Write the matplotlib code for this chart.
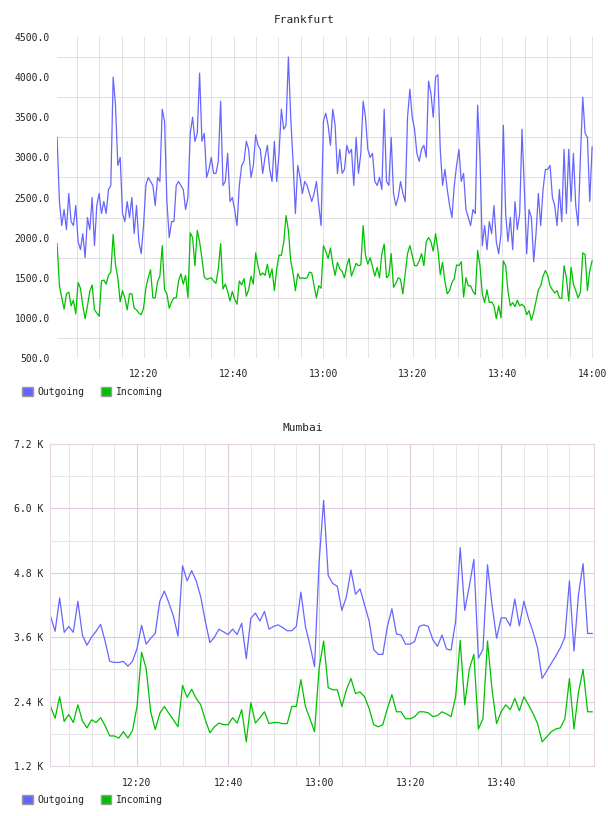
import numpy as np
import matplotlib.pyplot as plt
from matplotlib.patches import Patch

# Frankfurt, sampled about every 31 s between 12:00:36 and 14:00
fra_out = [3250, 2450, 2150, 2350, 2100, 2550, 2200, 2150, 2400, 1950,
           1850, 2050, 1750, 2250, 2100, 2500, 1900, 2400, 2550, 2300,
           2450, 2300, 2600, 2650, 4000, 3650, 2900, 3000, 2300, 2200,
           2450, 2250, 2500, 2050, 2400, 1950, 1800, 2150, 2650, 2750,
           2700, 2650, 2400, 2750, 2700, 3600, 3450, 2450, 2000, 2200,
           2200, 2650, 2700, 2650, 2600, 2350, 2500, 3300, 3500, 3200,
           3300, 4050, 3200, 3300, 2750, 2850, 3000, 2800, 2800, 2950,
           3700, 2650, 2700, 3050, 2450, 2500, 2350, 2150, 2650, 2900,
           2950, 3200, 3100, 2750, 2900, 3280, 3150, 3100, 2800, 3000,
           3150, 2850, 2700, 3200, 2700, 3050, 3600, 3350, 3400, 4250,
           3500, 2950, 2300, 2900, 2750, 2550, 2700, 2650, 2550, 2450,
           2550, 2700, 2400, 2150, 3450, 3550, 3400, 3150, 3600, 3400,
           2800, 3100, 2800, 2850, 3150, 3050, 3100, 2650, 3250, 2800,
           3050, 3700, 3500, 3100, 3000, 3050, 2700, 2650, 2750, 2600,
           3600, 2700, 2650, 3250, 2550, 2400, 2500, 2700, 2550, 2450,
           3500, 3850, 3500, 3350, 3050, 2950, 3100, 3150, 3000, 3950,
           3800, 3500, 4000, 4030, 3100, 2650, 2850, 2600, 2400, 2250,
           2650, 2900, 3100, 2700, 2800, 2350, 2250, 2150, 2350, 2300,
           3650, 3000, 1900, 2150, 1850, 2200, 2050, 2400, 1950, 1800,
           2050, 3400, 2300, 1950, 2250, 1850, 2450, 2100, 2300, 3350,
           2600, 1800, 2350, 2250, 1700, 2050, 2550, 2150, 2600, 2850,
           2850, 2900, 2500, 2400, 2150, 2600, 2200, 3100, 2300, 3100,
           2450, 3050, 2400, 2150, 3000, 3750, 3300, 3250, 2450, 3130]
fra_in = [1925, 1400, 1250, 1110, 1300, 1320, 1150, 1220, 1050, 1440,
          1370, 1150, 990, 1150, 1330, 1410, 1100, 1060, 1020, 1460,
          1470, 1420, 1530, 1570, 2040, 1660, 1500, 1200, 1340, 1250,
          1100, 1300, 1300, 1120, 1100, 1060, 1040, 1120, 1370, 1500,
          1600, 1250, 1250, 1450, 1520, 1900, 1350, 1300, 1120, 1200,
          1250, 1250, 1460, 1550, 1420, 1530, 1250, 2060, 2000, 1650,
          2090, 1950, 1740, 1510, 1480, 1490, 1500, 1460, 1430, 1610,
          1925, 1360, 1420, 1330, 1210, 1330, 1230, 1170, 1460, 1410,
          1490, 1270, 1350, 1520, 1420, 1810, 1650, 1530, 1560, 1530,
          1670, 1500, 1610, 1340, 1610, 1780, 1780, 1940, 2275, 2090,
          1710, 1560, 1340, 1550, 1490, 1500, 1490, 1500, 1570, 1560,
          1400, 1250, 1400, 1370, 1900, 1830, 1740, 1870, 1670, 1530,
          1690, 1610, 1580, 1500, 1650, 1740, 1520, 1600, 1680, 1650,
          1660, 2150, 1780, 1670, 1750, 1640, 1520, 1630, 1500, 1800,
          1920, 1500, 1530, 1800, 1380, 1430, 1500, 1480, 1300, 1550,
          1800, 1900, 1780, 1650, 1650, 1710, 1800, 1650, 1950, 2000,
          1950, 1830, 2050, 1850, 1540, 1690, 1450, 1300, 1340, 1440,
          1490, 1660, 1650, 1700, 1260, 1500, 1400, 1400, 1330, 1290,
          1840, 1650, 1300, 1190, 1350, 1190, 1200, 1150, 990, 1150,
          1000, 1710, 1650, 1330, 1150, 1190, 1140, 1220, 1150, 1170,
          1140, 1040, 1090, 970, 1070, 1210, 1350, 1400, 1520, 1590,
          1530, 1400, 1350, 1310, 1340, 1250, 1240, 1650, 1500, 1210,
          1630, 1420, 1340, 1250, 1320, 1810, 1790, 1340, 1590, 1710]
fra_t = np.linspace(0.6, 120.0, len(fra_out))  # minutes after 12:00

# Mumbai, one point a minute from 12:01 to 14:00 (values in K)
mum_out = [3.99, 3.71, 4.33, 3.69, 3.80, 3.69, 4.27, 3.64, 3.45, 3.60,
           3.71, 3.84, 3.52, 3.15, 3.13, 3.13, 3.15, 3.06, 3.15, 3.39,
           3.82, 3.47, 3.58, 3.67, 4.27, 4.46, 4.24, 3.99, 3.62, 4.93,
           4.65, 4.84, 4.65, 4.35, 3.90, 3.50, 3.60, 3.75, 3.70, 3.65,
           3.75, 3.65, 3.86, 3.20, 3.95, 4.05, 3.90, 4.08, 3.75, 3.80,
           3.83, 3.78, 3.72, 3.72, 3.80, 4.44, 3.80, 3.45, 3.05, 5.00,
           6.15, 4.75, 4.60, 4.55, 4.10, 4.35, 4.85, 4.40, 4.50, 4.20,
           3.90, 3.37, 3.28, 3.28, 3.80, 4.13, 3.66, 3.64, 3.47, 3.47,
           3.52, 3.80, 3.83, 3.80, 3.55, 3.43, 3.64, 3.38, 3.36, 3.90,
           5.27, 4.10, 4.55, 5.05, 3.21, 3.37, 4.95, 4.20, 3.58, 3.96,
           3.96, 3.81, 4.31, 3.81, 4.27, 3.95, 3.70, 3.40, 2.83, 2.97,
           3.11, 3.25, 3.40, 3.60, 4.65, 3.34, 4.40, 4.97, 3.67, 3.67]
mum_in = [2.31, 2.09, 2.49, 2.03, 2.16, 2.01, 2.34, 2.04, 1.91, 2.06,
          2.01, 2.10, 1.95, 1.76, 1.76, 1.72, 1.84, 1.72, 1.86, 2.31,
          3.32, 3.02, 2.21, 1.88, 2.18, 2.31, 2.18, 2.06, 1.93, 2.70,
          2.48, 2.63, 2.46, 2.34, 2.06, 1.82, 1.93, 2.00, 1.97, 1.97,
          2.10, 2.00, 2.25, 1.65, 2.38, 2.00, 2.10, 2.21, 1.99, 2.01,
          2.01, 1.99, 1.99, 2.31, 2.31, 2.81, 2.31, 2.08, 1.84, 3.02,
          3.53, 2.66, 2.62, 2.62, 2.31, 2.62, 2.83, 2.55, 2.58, 2.49,
          2.27, 1.97, 1.93, 1.97, 2.27, 2.53, 2.21, 2.21, 2.08, 2.08,
          2.12, 2.21, 2.21, 2.19, 2.12, 2.14, 2.21, 2.17, 2.12, 2.49,
          3.54, 2.34, 3.00, 3.28, 1.89, 2.08, 3.53, 2.62, 1.99, 2.21,
          2.34, 2.25, 2.46, 2.23, 2.49, 2.34, 2.18, 1.99, 1.65, 1.74,
          1.84, 1.89, 1.91, 2.08, 2.83, 1.89, 2.58, 3.00, 2.21, 2.21]
mum_t = np.arange(1, len(mum_out) + 1)

BLUE = '#6666ff'
GREEN = '#00c000'
TXT = '#222222'
MONO = 'DejaVu Sans Mono'

W, H = 608, 816
fig = plt.figure(figsize=(W / 100, H / 100), dpi=100)


def px_box(l, t, r, b):
    return [l / W, 1 - b / H, (r - l) / W, (b - t) / H]


def hhmm(m):
    return f"{12 + m // 60}:{m % 60:02d}"


def legend_at(y):
    handles = [Patch(facecolor=BLUE, edgecolor='#999999', label='Outgoing'),
               Patch(facecolor=GREEN, edgecolor='#999999', label='Incoming')]
    fig.legend(handles=handles, loc='center left', bbox_to_anchor=(22 / W, 1 - y / H),
               ncol=2, frameon=False, handlelength=1.1, handleheight=1.1,
               handletextpad=0.45, columnspacing=1.7, borderpad=0, borderaxespad=0,
               prop={'family': MONO, 'size': 7}, labelcolor=TXT)


# ---- Frankfurt ----
ax1 = fig.add_axes(px_box(57, 37, 593, 358))
ax1.plot(fra_t, fra_out, color=BLUE, lw=0.9)
ax1.plot(fra_t, fra_in, color=GREEN, lw=0.9)
ax1.set_xlim(0.58, 120.2)
ax1.set_ylim(500, 4500)
fra_yt = list(range(500, 5000, 500))
ax1.set_yticks(fra_yt, [f"{v:.1f}" for v in fra_yt])
ax1.set_yticks(list(range(750, 4500, 500)), minor=True)
fra_xt = list(range(20, 121, 20))
ax1.set_xticks(fra_xt, [hhmm(m) for m in fra_xt])
ax1.set_xticks(list(range(5, 120, 5)), minor=True)
ax1.grid(True, which='minor', axis='y', color='#e0e0e0', lw=0.75)
ax1.grid(True, which='both', axis='x', color='#e3e3e3', lw=0.75)
for s in ax1.spines.values():
    s.set_visible(False)
ax1.tick_params(which='both', length=0, labelsize=7, labelcolor=TXT)
ax1.tick_params(axis='y', pad=5)
ax1.tick_params(axis='x', pad=8)
for lab in ax1.get_xticklabels() + ax1.get_yticklabels():
    lab.set_family(MONO)
ax1.set_axisbelow(True)
fig.text(304 / W, 1 - 20 / H, 'Frankfurt', ha='center', va='center',
         fontsize=8, family=MONO, color=TXT)
legend_at(392)

# ---- Mumbai ----
ax2 = fig.add_axes(px_box(50, 444, 594, 766))
ax2.plot(mum_t, mum_out, color=BLUE, lw=0.9)
ax2.plot(mum_t, mum_in, color=GREEN, lw=0.9)
ax2.set_xlim(0.88, 120.4)
ax2.set_ylim(1.2, 7.2)
mum_yt = [1.2, 2.4, 3.6, 4.8, 6.0, 7.2]
ax2.set_yticks(mum_yt, [f"{v:.1f} K" for v in mum_yt])
ax2.set_yticks([1.8, 3.0, 4.2, 5.4, 6.6], minor=True)
mum_xt = list(range(20, 101, 20))
ax2.set_xticks(mum_xt, [hhmm(m) for m in mum_xt])
ax2.set_xticks([m for m in range(5, 120, 5) if m % 20], minor=True)
ax2.grid(True, which='major', color='#e0cae0', lw=0.8)
ax2.grid(True, which='minor', color='#e6e6e6', lw=0.75)
for s in ax2.spines.values():
    s.set_color('#e6d6e6')
ax2.tick_params(which='both', length=0, labelsize=7, labelcolor=TXT)
ax2.tick_params(axis='y', pad=5)
ax2.tick_params(axis='x', pad=9)
for lab in ax2.get_xticklabels() + ax2.get_yticklabels():
    lab.set_family(MONO)
ax2.set_axisbelow(True)
fig.text(303 / W, 1 - 428 / H, 'Mumbai', ha='center', va='center',
         fontsize=8, family=MONO, color=TXT)
legend_at(800)

fig.savefig('out.png', dpi=100)
